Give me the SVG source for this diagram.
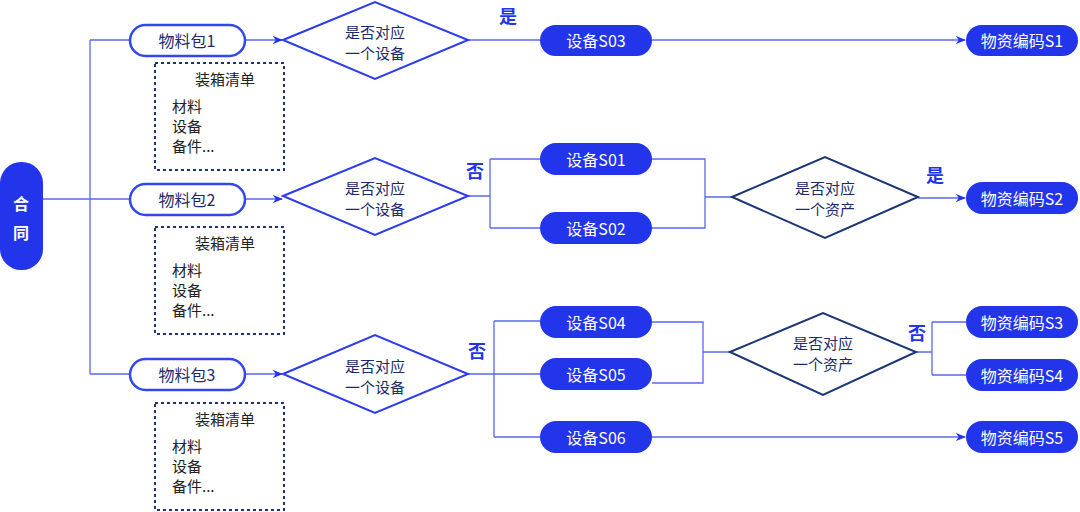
<svg xmlns="http://www.w3.org/2000/svg" width="1080" height="512" viewBox="0 0 1080 512">
<style>
text{font-family:"Noto Sans CJK SC","Noto Sans",sans-serif;text-anchor:middle;dominant-baseline:central}
.pk{fill:#fff;stroke:#3347ef;stroke-width:2.5}
.pkt{fill:#1b2b6b;font-size:16px}
.sn{fill:#2335ea}
.snt{fill:#fff;font-size:16px}
.d1{fill:#fff;stroke:#2a3bf0;stroke-width:2}
.d2{fill:#fff;stroke:#1b3574;stroke-width:2}
.dt{fill:#1b2b6b;font-size:15px}
.box{fill:none;stroke:#1b3574;stroke-width:2;stroke-dasharray:3 3}
.bt{fill:#222;font-size:15px;text-anchor:start}
.lbl{fill:#2335ea;font-size:18px;font-weight:bold}
.c{fill:none;stroke:#5a67f0;stroke-width:1.3}
</style>
<defs><marker id="a" viewBox="0 0 10 10" refX="9" refY="5" markerWidth="8" markerHeight="8" orient="auto"><path d="M0,1 L10,5 L0,9 L3,5z" fill="#2335ea"/></marker></defs>
<g id="connectors">
<path class="c" d="M43,199H130M90,40V374M90,40H130M90,374H130"/>
<path class="c" d="M245,40H282" marker-end="url(#a)"/>
<path class="c" d="M245,199H282" marker-end="url(#a)"/>
<path class="c" d="M245,374H282" marker-end="url(#a)"/>
<path class="c" d="M468,40H540"/>
<path class="c" d="M652,40H965" marker-end="url(#a)"/>
<path class="c" d="M468,196H490M490,159V228M490,159H540M490,228H540"/>
<path class="c" d="M652,159H705V228H652M705,197H732"/>
<path class="c" d="M918,198H965" marker-end="url(#a)"/>
<path class="c" d="M468,374H540M494,321V437M494,321H540M494,437H540"/>
<path class="c" d="M652,322H703V383H652M703,352H730"/>
<path class="c" d="M916,352H932M932,322V375M932,322H966M932,375H966"/>
<path class="c" d="M652,437H965" marker-end="url(#a)"/>
</g>
<text class="lbl" x="508" y="15">是</text>
<text class="lbl" x="475" y="170">否</text>
<text class="lbl" x="935" y="174">是</text>
<text class="lbl" x="477" y="350">否</text>
<text class="lbl" x="917" y="332">否</text>
<g id="n-hetong"><rect class="sn" x="0" y="162" width="43" height="108" rx="21"/><text class="snt" x="21" y="203" font-size="18" font-weight="bold">合</text><text class="snt" x="21" y="232" font-size="18" font-weight="bold">同</text></g>
<g id="n-p1"><rect class="pk" x="130" y="25" width="115" height="31" rx="15.5"/><text class="pkt" x="187" y="40">物料包1</text></g>
<g id="n-p2"><rect class="pk" x="130" y="184" width="115" height="31" rx="15.5"/><text class="pkt" x="187" y="199">物料包2</text></g>
<g id="n-p3"><rect class="pk" x="130" y="359" width="115" height="31" rx="15.5"/><text class="pkt" x="187" y="374">物料包3</text></g>
<g id="n-b1"><rect class="box" x="155" y="63" width="129" height="107"/><text class="pkt" x="225" y="78" style="fill:#222;font-size:15px">装箱清单</text><text class="bt" x="172" y="105">材料</text><text class="bt" x="172" y="125">设备</text><text class="bt" x="172" y="145">备件...</text></g>
<g id="n-b2"><rect class="box" x="155" y="227" width="129" height="107"/><text class="pkt" x="225" y="242" style="fill:#222;font-size:15px">装箱清单</text><text class="bt" x="172" y="269">材料</text><text class="bt" x="172" y="289">设备</text><text class="bt" x="172" y="309">备件...</text></g>
<g id="n-b3"><rect class="box" x="155" y="403" width="129" height="107"/><text class="pkt" x="225" y="418" style="fill:#222;font-size:15px">装箱清单</text><text class="bt" x="172" y="445">材料</text><text class="bt" x="172" y="465">设备</text><text class="bt" x="172" y="485">备件...</text></g>
<g id="n-d1"><polygon class="d1" points="283,40 375,2 468,40 375,79"/><text class="dt" x="375" y="31">是否对应</text><text class="dt" x="375" y="52">一个设备</text></g>
<g id="n-d2"><polygon class="d1" points="283,196 375,158 468,196 375,235"/><text class="dt" x="375" y="187">是否对应</text><text class="dt" x="375" y="208">一个设备</text></g>
<g id="n-d3"><polygon class="d1" points="283,374 375,335 468,374 375,413"/><text class="dt" x="375" y="365">是否对应</text><text class="dt" x="375" y="386">一个设备</text></g>
<g id="n-d4"><polygon class="d2" points="732,197 825,157 918,197 825,238"/><text class="dt" x="825" y="187">是否对应</text><text class="dt" x="825" y="208">一个资产</text></g>
<g id="n-d5"><polygon class="d2" points="730,352 823,313 916,352 823,395"/><text class="dt" x="823" y="342">是否对应</text><text class="dt" x="823" y="363">一个资产</text></g>
<g id="n-s03"><rect class="sn" x="540" y="25" width="112" height="31" rx="15.5"/><text class="snt" x="596" y="40">设备S03</text></g>
<g id="n-s01"><rect class="sn" x="540" y="143" width="112" height="32" rx="16"/><text class="snt" x="596" y="159">设备S01</text></g>
<g id="n-s02"><rect class="sn" x="540" y="212" width="112" height="32" rx="16"/><text class="snt" x="596" y="228">设备S02</text></g>
<g id="n-s04"><rect class="sn" x="540" y="306" width="112" height="32" rx="16"/><text class="snt" x="596" y="322">设备S04</text></g>
<g id="n-s05"><rect class="sn" x="540" y="358" width="112" height="32" rx="16"/><text class="snt" x="596" y="374">设备S05</text></g>
<g id="n-s06"><rect class="sn" x="540" y="421" width="112" height="32" rx="16"/><text class="snt" x="596" y="437">设备S06</text></g>
<g id="n-m1"><rect class="sn" x="966" y="25" width="112" height="31" rx="15.5"/><text class="snt" x="1022" y="40" font-size="15">物资编码S1</text></g>
<g id="n-m2"><rect class="sn" x="966" y="182" width="112" height="32" rx="16"/><text class="snt" x="1022" y="198" font-size="15">物资编码S2</text></g>
<g id="n-m3"><rect class="sn" x="966" y="306" width="112" height="32" rx="16"/><text class="snt" x="1022" y="322" font-size="15">物资编码S3</text></g>
<g id="n-m4"><rect class="sn" x="966" y="359" width="112" height="32" rx="16"/><text class="snt" x="1022" y="375" font-size="15">物资编码S4</text></g>
<g id="n-m5"><rect class="sn" x="966" y="421" width="112" height="32" rx="16"/><text class="snt" x="1022" y="437" font-size="15">物资编码S5</text></g>
</svg>
